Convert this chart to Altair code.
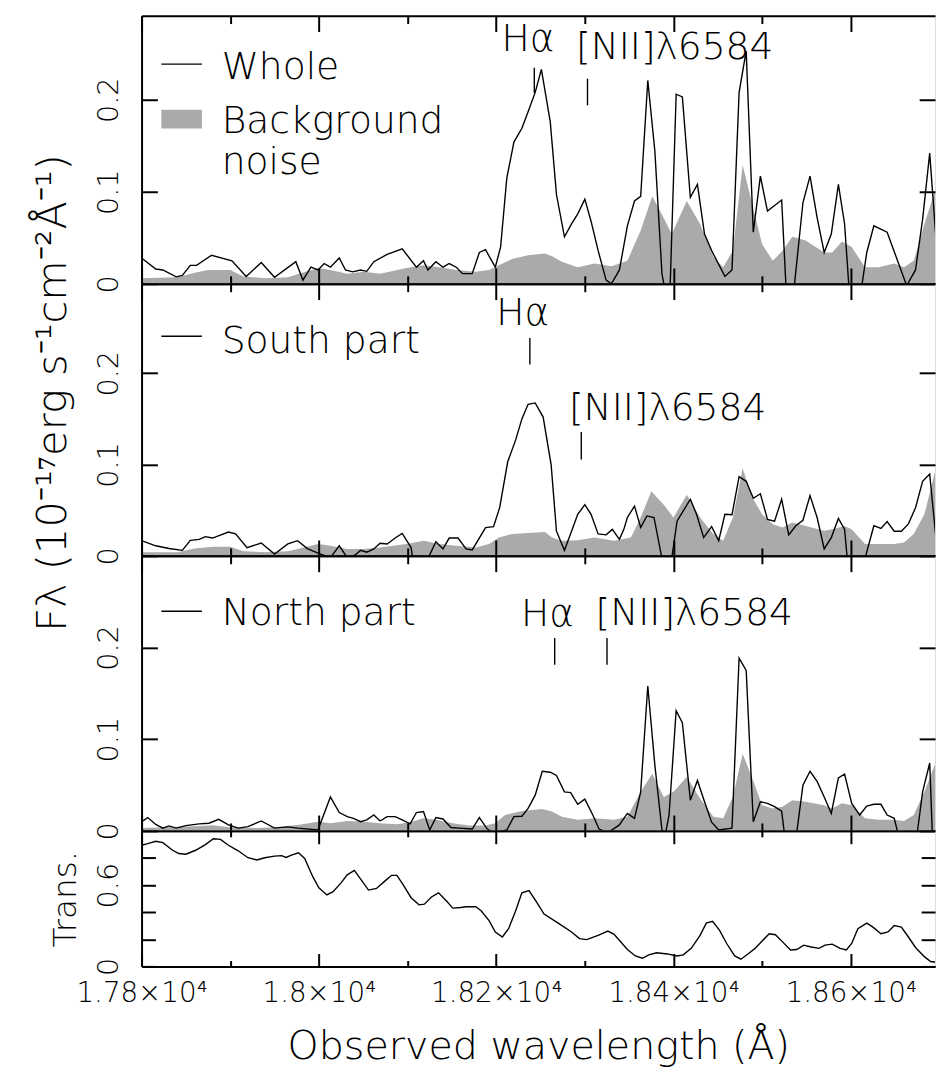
import altair as alt
import pandas as pd

# ---------------- data ----------------
# Panel 1: whole region spectrum and background noise
WHOLE_WL = [17800, 17816, 17824, 17839, 17846, 17855, 17862, 17879, 17902, 17918, 17935, 17950, 17974, 17982,
            17991, 17999, 18006, 18013, 18023, 18030, 18038, 18047, 18054, 18062, 18077, 18094, 18110, 18118,
            18123, 18132, 18140, 18147, 18155, 18162, 18173, 18181, 18188, 18199, 18205, 18212, 18220, 18229,
            18236, 18244, 18251, 18261, 18268, 18277, 18285, 18292, 18300, 18307, 18315, 18324, 18330, 18339,
            18348, 18356, 18363, 18371, 18379, 18387, 18391, 18396, 18403, 18410, 18419, 18427, 18435, 18443,
            18458, 18466, 18474, 18482, 18490, 18498, 18506, 18522, 18527, 18536, 18546, 18554, 18562, 18570,
            18578, 18586, 18593, 18598, 18612, 18618, 18626, 18641, 18663, 18673, 18681, 18689, 18696]
WHOLE_FLUX = [0.028, 0.016, 0.015, 0.0075, 0.009, 0.020, 0.020, 0.031, 0.025, 0.008, 0.023, 0.007, 0.024, 0.004,
              0.018, 0.015, 0.022, 0.018, 0.028, 0.015, 0.013, 0.015, 0.0135, 0.024, 0.032, 0.038, 0.018, 0.025,
              0.015, 0.024, 0.018, 0.022, 0.018, 0.011, 0.011, 0.034, 0.037, 0.018, 0.040, 0.115, 0.154, 0.169,
              0.187, 0.208, 0.233, 0.176, 0.097, 0.051, 0.065, 0.076, 0.092, 0.068, 0.036, 0.004, 0.0, 0.015,
              0.063, 0.090, 0.095, 0.221, 0.144, 0.011, -0.01, -0.01, 0.206, 0.203, 0.094, 0.108, 0.054, 0.036,
              0.008, 0.015, 0.208, 0.253, 0.056, 0.117, 0.079, 0.091, -0.005, -0.005, 0.088, 0.117, 0.072, 0.034,
              0.054, 0.108, 0.065, -0.005, -0.005, 0.034, 0.063, 0.056, -0.002, 0.015, 0.07, 0.142, 0.05]
NOISE1_WL = [17800, 17840, 17860, 17875, 17900, 17915, 17940, 17965, 17985, 18000, 18013, 18032, 18051, 18069,
             18099, 18118, 18136, 18155, 18177, 18192, 18203, 18218, 18236, 18255, 18263, 18274, 18292, 18311,
             18330, 18348, 18363, 18376, 18385, 18398, 18415, 18430, 18445, 18456, 18467, 18478, 18489, 18500,
             18512, 18523, 18534, 18549, 18570, 18579, 18590, 18601, 18616, 18631, 18649, 18660, 18671, 18683,
             18696]
NOISE1 = [0.006, 0.007, 0.012, 0.015, 0.015, 0.008, 0.006, 0.007, 0.013, 0.017, 0.015, 0.011, 0.013, 0.011,
          0.017, 0.020, 0.018, 0.015, 0.013, 0.015, 0.020, 0.027, 0.031, 0.033, 0.030, 0.024, 0.018, 0.022,
          0.019, 0.025, 0.058, 0.095, 0.079, 0.054, 0.090, 0.065, 0.029, 0.018, 0.036, 0.129, 0.086, 0.043,
          0.025, 0.036, 0.051, 0.047, 0.034, 0.034, 0.046, 0.040, 0.018, 0.018, 0.022, 0.018, 0.025, 0.065,
          0.104]

# Panel 2: south part
SOUTH_WL = [17800, 17816, 17831, 17846, 17855, 17865, 17872, 17880, 17898, 17906, 17919, 17935, 17950, 17965,
            17976, 17987, 17999, 18013, 18023, 18032, 18041, 18047, 18054, 18062, 18069, 18077, 18086, 18094,
            18104, 18106, 18123, 18132, 18140, 18147, 18157, 18166, 18173, 18188, 18197, 18204, 18213, 18222,
            18229, 18236, 18244, 18253, 18262, 18268, 18277, 18285, 18292, 18300, 18307, 18315, 18324, 18331,
            18339, 18344, 18348, 18356, 18363, 18370, 18378, 18387, 18398, 18404, 18419, 18426, 18434, 18443,
            18451, 18458, 18466, 18474, 18482, 18490, 18498, 18506, 18514, 18522, 18530, 18538, 18546, 18554,
            18562, 18570, 18578, 18586, 18593, 18596, 18616, 18626, 18634, 18641, 18649, 18657, 18665, 18673,
            18681, 18689, 18696]
SOUTH_FLUX = [0.0166, 0.011, 0.008, 0.006, 0.017, 0.018, 0.021, 0.0195, 0.026, 0.024, 0.009, 0.014, 0.002, 0.013,
              0.0166, 0.008, 0.003, -0.002, 0.011, -0.002, 0.001, 0.006, 0.004, 0.0076, 0.0137, 0.013, 0.0195,
              0.0245, 0.009, -0.003, -0.003, 0.0155, 0.0076, 0.0195, 0.0195, 0.0076, 0.0065, 0.031, 0.032, 0.053,
              0.103, 0.127, 0.150, 0.166, 0.1675, 0.152, 0.0997, 0.027, 0.006, 0.027, 0.0455, 0.056, 0.0455,
              0.024, 0.023, 0.029, 0.018, 0.029, 0.042, 0.0545, 0.031, 0.0437, 0.042, -0.003, -0.003, 0.038,
              0.062, 0.0455, 0.020, 0.032, 0.0166, 0.0455, 0.045, 0.0867, 0.0816, 0.063, 0.068, 0.040, 0.038,
              0.062, 0.023, 0.033, 0.039, 0.066, 0.042, 0.0076, 0.020, 0.041, 0.029, -0.003, -0.003, 0.033,
              0.030, 0.0375, 0.027, 0.027, 0.035, 0.0527, 0.0816, 0.0895, 0.02]
NOISE2_WL = [17800, 17840, 17860, 17880, 17900, 17915, 17940, 17965, 17976, 17999, 18013, 18032, 18051, 18069,
             18099, 18118, 18136, 18155, 18177, 18192, 18203, 18218, 18236, 18255, 18263, 18274, 18292, 18311,
             18333, 18352, 18363, 18375, 18389, 18400, 18415, 18430, 18445, 18456, 18467, 18478, 18489, 18500,
             18512, 18523, 18534, 18549, 18570, 18579, 18593, 18601, 18616, 18631, 18649, 18660, 18671, 18683,
             18696]
NOISE2 = [0.004, 0.004, 0.008, 0.010, 0.010, 0.005, 0.004, 0.005, 0.0076, 0.013, 0.011, 0.0076, 0.0076, 0.009,
          0.013, 0.0166, 0.013, 0.011, 0.009, 0.013, 0.020, 0.024, 0.025, 0.026, 0.020, 0.0166, 0.017, 0.020,
          0.0166, 0.020, 0.042, 0.0707, 0.056, 0.042, 0.067, 0.042, 0.024, 0.0166, 0.042, 0.096, 0.0635, 0.0455,
          0.0347, 0.031, 0.0364, 0.0328, 0.0274, 0.029, 0.0328, 0.029, 0.013, 0.013, 0.013, 0.0147, 0.024,
          0.0455, 0.096]

# Panel 3: north part
NORTH_WL = [17800, 17807, 17816, 17824, 17831, 17839, 17850, 17865, 17876, 17887, 17898, 17909, 17920, 17935,
            17950, 17965, 17976, 17999, 18013, 18023, 18032, 18039, 18047, 18054, 18062, 18069, 18077, 18086,
            18094, 18103, 18110, 18118, 18125, 18132, 18140, 18149, 18158, 18173, 18181, 18190, 18197, 18212,
            18220, 18229, 18236, 18244, 18252, 18261, 18268, 18277, 18284, 18292, 18300, 18309, 18316, 18326,
            18339, 18344, 18348, 18356, 18363, 18371, 18379, 18387, 18391, 18395, 18403, 18410, 18419, 18427,
            18435, 18443, 18451, 18466, 18474, 18482, 18490, 18498, 18506, 18514, 18522, 18525, 18539, 18546,
            18554, 18562, 18570, 18578, 18586, 18593, 18601, 18610, 18618, 18626, 18634, 18641, 18649, 18653,
            18675, 18681, 18689, 18692, 18696]
NORTH_FLUX = [0.010, 0.0145, 0.007, 0.003, 0.0054, 0.003, 0.0058, 0.0076, 0.0083, 0.0126, 0.0065, 0.003, 0.0047,
              0.0108, 0.003, 0.0043, 0.003, 0.001, 0.037, 0.020, 0.0155, 0.0137, 0.010, 0.012, 0.0173, 0.0108,
              0.0155, 0.0155, 0.012, 0.0076, 0.020, 0.021, 0.001, 0.0145, 0.013, 0.0037, 0.003, 0.002, 0.0145,
              0.002, -0.002, 0.001, 0.0155, 0.016, 0.0245, 0.039, 0.065, 0.064, 0.0605, 0.0426, 0.0418, 0.029,
              0.0346, 0.0173, 0.002, -0.002, 0.0065, 0.0137, 0.019, 0.0137, 0.0426, 0.158, 0.0714, 0.001, -0.003,
              0.0173, 0.131, 0.118, 0.0335, 0.055, 0.0318, 0.0094, 0.001, 0.003, 0.1885, 0.175, 0.010, 0.0318,
              0.030, 0.0264, 0.0216, -0.002, -0.002, 0.0497, 0.065, 0.054, 0.037, 0.019, 0.0577, 0.062, 0.030,
              0.0173, 0.027, 0.029, 0.029, 0.0173, 0.0137, -0.002, -0.002, 0.0426, 0.074, -0.005, -0.005]
NOISE3_WL = [17800, 17830, 17860, 17880, 17900, 17930, 17950, 17976, 17999, 18013, 18032, 18051, 18069, 18088,
             18103, 18118, 18132, 18151, 18169, 18188, 18199, 18210, 18229, 18252, 18263, 18274, 18292, 18311,
             18333, 18348, 18363, 18376, 18389, 18400, 18415, 18430, 18445, 18456, 18467, 18478, 18489, 18500,
             18512, 18523, 18534, 18549, 18570, 18579, 18590, 18601, 18616, 18631, 18649, 18660, 18671, 18683,
             18696]
NOISE3 = [0.003, 0.004, 0.005, 0.006, 0.004, 0.003, 0.004, 0.0065, 0.010, 0.0083, 0.0108, 0.010, 0.0083, 0.0072,
          0.0094, 0.0137, 0.012, 0.0083, 0.0058, 0.0058, 0.0083, 0.0173, 0.0216, 0.0238, 0.021, 0.0155, 0.012,
          0.0137, 0.012, 0.0155, 0.0426, 0.0624, 0.037, 0.0426, 0.0588, 0.0353, 0.0155, 0.0137, 0.037, 0.084,
          0.057, 0.028, 0.0245, 0.0264, 0.0335, 0.0318, 0.028, 0.0245, 0.030, 0.028, 0.0137, 0.012, 0.012,
          0.0108, 0.0173, 0.0426, 0.075]

# Panel 4: atmospheric transmission
TRANS_WL = [17800, 17807, 17816, 17824, 17835, 17842, 17850, 17861, 17872, 17881,
            17889, 17898, 17909, 17920, 17930, 17939, 17950, 17958, 17963, 17969,
            17977, 17984, 17993, 18000, 18009, 18016, 18025, 18032, 18040, 18049,
            18056, 18065, 18075, 18082, 18088, 18095, 18104, 18113, 18119, 18127,
            18135, 18144, 18151, 18160, 18166, 18177, 18183, 18192, 18199, 18207,
            18214, 18222, 18229, 18237, 18246, 18254, 18270, 18285, 18294, 18302,
            18315, 18326, 18333, 18348, 18357, 18365, 18372, 18381, 18393, 18404,
            18411, 18420, 18430, 18437, 18444, 18452, 18460, 18469, 18476, 18484,
            18492, 18500, 18508, 18515, 18523, 18532, 18539, 18547, 18554, 18564,
            18571, 18579, 18588, 18595, 18601, 18608, 18618, 18625, 18634, 18642,
            18649, 18657, 18665, 18673, 18683, 18690, 18696]
TRANS = [0.894, 0.906, 0.923, 0.913, 0.857, 0.833, 0.828, 0.857, 0.899, 0.942,
         0.937, 0.894, 0.853, 0.802, 0.785, 0.802, 0.814, 0.817, 0.804, 0.821,
         0.838, 0.797, 0.664, 0.580, 0.527, 0.551, 0.616, 0.676, 0.708, 0.628,
         0.563, 0.575, 0.633, 0.672, 0.672, 0.604, 0.507, 0.454, 0.459, 0.512,
         0.543, 0.483, 0.430, 0.435, 0.440, 0.440, 0.411, 0.338, 0.254, 0.217,
         0.278, 0.411, 0.543, 0.560, 0.471, 0.386, 0.319, 0.254, 0.205, 0.198,
         0.229, 0.261, 0.237, 0.125, 0.077, 0.060, 0.085, 0.101, 0.092, 0.077,
         0.085, 0.133, 0.229, 0.319, 0.333, 0.266, 0.169, 0.077, 0.053, 0.092,
         0.133, 0.188, 0.241, 0.234, 0.181, 0.121, 0.125, 0.157, 0.145, 0.133,
         0.157, 0.164, 0.133, 0.121, 0.169, 0.278, 0.319, 0.290, 0.241, 0.254,
         0.302, 0.290, 0.217, 0.140, 0.072, 0.036, 0.031]

# Line identifications (text baseline position and marker extent, in data units)
LINE_LABELS = ["Hα", "[NII]λ6584"]
P1_LABEL_WL, P1_LABEL_Y = [18206, 18290], [0.253, 0.2444]
P1_TICK_WL, P1_TICK_TOP, P1_TICK_BOT = [18243, 18303], [0.2347, 0.2229], [0.2076, 0.1939]
P2_LABEL_WL, P2_LABEL_Y = [18200, 18282], [0.2528, 0.1488]
P2_TICK_WL, P2_TICK_TOP, P2_TICK_BOT = [18238, 18296], [0.2387, 0.1357], [0.2095, 0.1054]
P3_LABEL_WL, P3_LABEL_Y = [18228, 18312], [0.2235, 0.2245]
P3_TICK_WL, P3_TICK_TOP, P3_TICK_BOT = [18266, 18325], [0.2105, 0.2105], [0.1813, 0.1813]

# Axes
X_DOMAIN = [17800, 18695]
X_MAJOR = [17800, 18000, 18200, 18400, 18600]
X_MINOR = [17900, 18100, 18300, 18500]
X_LABELS = ["1.78×10⁴", "1.8×10⁴", "1.82×10⁴", "1.84×10⁴", "1.86×10⁴"]
FLUX_TICKS = [0, 0.1, 0.2]
FLUX_LABELS = ["0", "0.1", "0.2"]
TRANS_TICKS = [0, 0.2, 0.4, 0.6, 0.8]
TRANS_LABELS = ["0", "", "", "0.6", ""]

# ---------------- styling ----------------
FONT = "DejaVu Sans"
FW = 300
NOISE_COLOR = "#aaaaaa"
TICK_COLOR = "black"
TICK_W = 2
PLOT_W = 802
ONE_ROW = pd.DataFrame({"row": [0]})


def label_expr(values, labels):
    expr = "''"
    for v, lab in reversed(list(zip(values, labels))):
        expr = f"abs(datum.value - {v}) < 1e-6 ? '{lab}' : ({expr})"
    return expr


def x_scale():
    return alt.Scale(domain=X_DOMAIN, nice=False, zero=False)


def frame_axis(orient):
    # plain border line of the panel
    return alt.Axis(orient=orient, domain=True, domainColor="black", domainWidth=2, ticks=False,
                    labels=False, grid=False, title=None, zindex=1)


def x_ticks(orient, values, size, labels=False, title=None):
    # inward ticks: the axis is moved inside the panel by its tick length
    kw = dict(orient=orient, values=values, offset=-size, tickSize=size, grid=False, domain=False,
              ticks=True, tickColor=TICK_COLOR, tickWidth=TICK_W, tickOpacity=1, labels=labels, zindex=1)
    if labels:
        kw.update(labelExpr=label_expr(X_MAJOR, X_LABELS), labelFont=FONT, labelFontSize=28,
                  labelFontWeight=FW, labelColor="black", labelPadding=13, labelFlush=False,
                  labelOverlap=False, labelBaseline="top", labelAlign="center")
    if title:
        kw.update(title=title, titleFont=FONT, titleFontSize=40, titleFontWeight=FW, titleColor="black",
                  titleBaseline="alphabetic", titleY=93 + size)
    else:
        kw["title"] = None
    return alt.Axis(**kw)


def y_left(values, labels, tick, title=None, title_x=-90, title_y=None, title_size=42):
    kw = dict(orient="left", values=values, offset=-tick, tickSize=tick, grid=False, domain=False,
              ticks=True, tickColor=TICK_COLOR, tickWidth=TICK_W, tickOpacity=1, zindex=1,
              labels=True, labelExpr=label_expr(values, labels), labelFont=FONT, labelFontSize=29,
              labelFontWeight=FW, labelColor="black", labelAngle=270, labelAlign="center",
              labelBaseline="bottom", labelPadding=18, labelFlush=False, labelOverlap=False)
    if title:
        kw.update(title=title, titleFont=FONT, titleFontSize=title_size, titleFontWeight=FW,
                  titleColor="black", titleAngle=270, titleBaseline="middle", titleAlign="center",
                  titleX=title_x - tick)
        if title_y is not None:
            kw["titleY"] = title_y
    else:
        kw["title"] = None
    return alt.Axis(**kw)


def y_right(values, tick):
    return alt.Axis(orient="right", values=values, offset=-tick, tickSize=tick, grid=False, domain=False,
                    labels=False, title=None, ticks=True, tickColor=TICK_COLOR, tickWidth=TICK_W,
                    tickOpacity=1, zindex=1)


def legend_text(x, y, text):
    return alt.Chart(ONE_ROW).mark_text(align="left", baseline="alphabetic", font=FONT, fontSize=38,
                                        fontWeight=FW, color="black").encode(
        x=alt.value(x), y=alt.value(y), text=alt.value(text))


def legend_line(y):
    return alt.Chart(ONE_ROW).mark_rule(color="black", strokeWidth=1.5).encode(
        x=alt.value(20), x2=alt.value(61), y=alt.value(y))


def helper(df, field, ysc, xaxis, yaxis=None):
    # invisible copy of a series, only used to carry an extra axis
    return alt.Chart(df).mark_line(strokeOpacity=0, clip=True).encode(
        x=alt.X("wl:Q", scale=x_scale(), axis=xaxis),
        y=alt.Y(f"{field}:Q", scale=ysc, axis=yaxis))


def spectrum_panel(line_wl, line_flux, noise_wl, noise_flux, ymax, height,
                   lab_wl, lab_y, tick_wl, tick_top, tick_bot, legend, title=None, title_y=None):
    ysc = alt.Scale(domain=[0, ymax], nice=False, zero=False)
    line_df = pd.DataFrame({"wl": line_wl, "flux": line_flux})
    noise = alt.Chart(pd.DataFrame({"wl": noise_wl, "flux": noise_flux})).mark_area(
        color=NOISE_COLOR, clip=True).encode(
        x=alt.X("wl:Q", scale=x_scale(), axis=x_ticks("bottom", X_MAJOR, 16)),
        y=alt.Y("flux:Q", scale=ysc,
                axis=y_left(FLUX_TICKS, FLUX_LABELS, 16, title=title, title_y=title_y)))
    spec = alt.Chart(line_df).mark_line(color="black", strokeWidth=1.4, clip=True).encode(
        x=alt.X("wl:Q", scale=x_scale(), axis=x_ticks("top", X_MAJOR, 16)),
        y=alt.Y("flux:Q", scale=ysc, axis=y_right(FLUX_TICKS, 16)))
    labels = alt.Chart(pd.DataFrame({"wl": lab_wl, "flux": lab_y, "txt": LINE_LABELS})).mark_text(
        align="left", baseline="alphabetic", font=FONT, fontSize=38, fontWeight=FW, color="black").encode(
        x=alt.X("wl:Q", scale=x_scale(), axis=x_ticks("bottom", X_MINOR, 8)),
        y=alt.Y("flux:Q", scale=ysc, axis=frame_axis("left")),
        text="txt:N")
    markers = alt.Chart(pd.DataFrame({"wl": tick_wl, "top": tick_top, "bot": tick_bot})).mark_rule(
        color="black", strokeWidth=1.4).encode(
        x=alt.X("wl:Q", scale=x_scale(), axis=x_ticks("top", X_MINOR, 8)),
        y=alt.Y("top:Q", scale=ysc, axis=None),
        y2="bot:Q")
    frame_b = helper(line_df, "flux", ysc, frame_axis("bottom"))
    frame_t = helper(line_df, "flux", ysc, frame_axis("top"))
    return alt.layer(noise, spec, labels, markers, frame_b, frame_t, *legend).resolve_axis(
        x="independent", y="independent").properties(width=PLOT_W, height=height)


p1 = spectrum_panel(WHOLE_WL, WHOLE_FLUX, NOISE1_WL, NOISE1, 0.2914, 271,
                    P1_LABEL_WL, P1_LABEL_Y, P1_TICK_WL, P1_TICK_TOP, P1_TICK_BOT,
                    [legend_line(49), legend_text(81, 64, "Whole"),
                     alt.Chart(ONE_ROW).mark_rect(color=NOISE_COLOR).encode(
                         x=alt.value(20), x2=alt.value(61), y=alt.value(95), y2=alt.value(114)),
                     legend_text(81, 119, "Background"), legend_text(81, 160, "noise")])

p2 = spectrum_panel(SOUTH_WL, SOUTH_FLUX, NOISE2_WL, NOISE2, 0.298, 275,
                    P2_LABEL_WL, P2_LABEL_Y, P2_TICK_WL, P2_TICK_TOP, P2_TICK_BOT,
                    [legend_line(53), legend_text(81, 70, "South part")],
                    title="Fλ (10⁻¹⁷erg s⁻¹cm⁻²Å⁻¹)", title_y=110)

p3 = spectrum_panel(NORTH_WL, NORTH_FLUX, NOISE3_WL, NOISE3, 0.3, 278,
                    P3_LABEL_WL, P3_LABEL_Y, P3_TICK_WL, P3_TICK_TOP, P3_TICK_BOT,
                    [legend_line(56), legend_text(81, 70, "North part")])

trans_df = pd.DataFrame({"wl": TRANS_WL, "t": TRANS})
tsc = alt.Scale(domain=[0, 1], nice=False, zero=False)
t_line = alt.Chart(trans_df).mark_line(color="black", strokeWidth=1.4, clip=True).encode(
    x=alt.X("wl:Q", scale=x_scale(),
            axis=x_ticks("bottom", X_MAJOR, 13, labels=True, title="Observed wavelength (Å)")),
    y=alt.Y("t:Q", scale=tsc,
            axis=y_left(TRANS_TICKS, TRANS_LABELS, 14, title="Trans.", title_x=-77, title_size=33)))
p4 = alt.layer(
    t_line,
    helper(trans_df, "t", tsc, x_ticks("top", X_MAJOR, 13), y_right(TRANS_TICKS, 14)),
    helper(trans_df, "t", tsc, x_ticks("bottom", X_MINOR, 6), frame_axis("left")),
    helper(trans_df, "t", tsc, x_ticks("top", X_MINOR, 6)),
    helper(trans_df, "t", tsc, frame_axis("bottom")),
    helper(trans_df, "t", tsc, frame_axis("top")),
).resolve_axis(x="independent", y="independent").properties(width=PLOT_W, height=137)

chart = alt.vconcat(p1, p2, p3, p4, spacing=0, bounds="flush").properties(
    padding={"left": 23, "top": 0, "right": 0, "bottom": 0}
).configure_view(stroke=None).configure(font=FONT)

chart.save("out.html", embed_options={"renderer": "svg", "actions": False})
